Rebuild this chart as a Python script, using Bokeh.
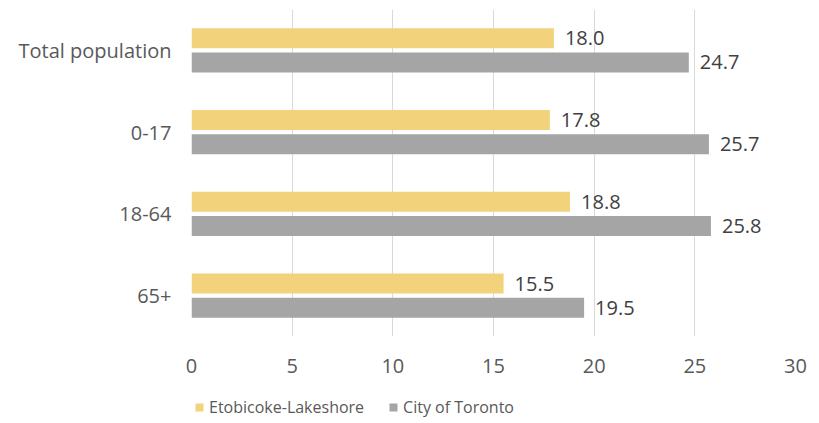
from bokeh.plotting import figure
from bokeh.layouts import column
from bokeh.models import ColumnDataSource, Legend, LegendItem, FixedTicker, Range1d
from bokeh.transform import dodge
from bokeh.core.properties import value
from bokeh.embed import file_html
from bokeh.resources import INLINE

categories = ["Total population", "0-17", "18-64", "65+"]
etobicoke = [18.0, 17.8, 18.8, 15.5]
toronto = [24.7, 25.7, 25.8, 19.5]
x_ticks = [0, 5, 10, 15, 20, 25, 30]
series_names = ["Etobicoke-Lakeshore", "City of Toronto"]

FONT = "Open Sans"
YELLOW = "#F3D27C"
GRAY = "#A5A5A5"

src = ColumnDataSource(dict(
    cat=categories,
    eto=etobicoke,
    tor=toronto,
    eto_lbl=[f"{v:.1f}" for v in etobicoke],
    tor_lbl=[f"{v:.1f}" for v in toronto],
))

p = figure(width=819, height=395, y_range=list(reversed(categories)),
           x_range=(0, 30), output_backend="svg", toolbar_location=None,
           min_border_left=191, min_border_right=24, min_border_top=9,
           min_border_bottom=59)

OFF = 0.147
r1 = p.hbar(y=dodge("cat", OFF, range=p.y_range), right="eto", left=0,
            height=0.245, source=src, color=YELLOW, line_color=None)
r2 = p.hbar(y=dodge("cat", -OFF, range=p.y_range), right="tor", left=0,
            height=0.245, source=src, color=GRAY, line_color=None)

p.text(x="eto", y=dodge("cat", OFF, range=p.y_range), text="eto_lbl",
       source=src, x_offset=11, text_baseline="middle", text_align="left",
       text_font_size="20px", text_color="#404040", text_font=value(FONT))
p.text(x="tor", y=dodge("cat", -OFF, range=p.y_range), text="tor_lbl",
       source=src, x_offset=11, text_baseline="middle", text_align="left",
       text_font_size="20px", text_color="#404040", text_font=value(FONT))

p.outline_line_color = None
p.ygrid.grid_line_color = None
p.xgrid.grid_line_color = "#D9D9D9"
p.xgrid.grid_line_width = 1
p.xaxis.ticker = FixedTicker(ticks=x_ticks)

for ax in (p.xaxis[0], p.yaxis[0]):
    ax.axis_line_color = None
    ax.major_tick_line_color = None
    ax.minor_tick_line_color = None
    ax.major_tick_out = 0
    ax.major_tick_in = 0
    ax.major_label_text_font = FONT
    ax.major_label_text_font_size = "20px"
    ax.major_label_text_color = "#595959"
p.xaxis.major_label_standoff = 22
p.yaxis.major_label_standoff = 20

# legend strip: zero-height proxy bars, only the legend is visible
lf = figure(width=819, height=28, x_range=Range1d(100, 101), y_range=list(categories),
            output_backend="svg", toolbar_location=None,
            x_axis_location=None, y_axis_location=None,
            min_border_left=0, min_border_right=0, min_border_top=0,
            min_border_bottom=0)
lf.outline_line_color = None
lf.grid.grid_line_color = None
l1 = lf.hbar(y="cat", right="eto", left=0, height=0, source=src,
             color=YELLOW, line_color=None)
l2 = lf.hbar(y="cat", right="tor", left=0, height=0, source=src,
             color=GRAY, line_color=None)

legend = Legend(items=[LegendItem(label=series_names[0], renderers=[l1]),
                       LegendItem(label=series_names[1], renderers=[l2])],
                orientation="horizontal", location=(3, 5),
                label_text_font=FONT, label_text_font_size="16px",
                label_text_color="#595959", glyph_width=10, glyph_height=10,
                label_standoff=5, spacing=24, padding=0, margin=0,
                border_line_color=None, background_fill_alpha=0)
lf.add_layout(legend, "center")

layout = column(p, lf, spacing=0)
open("out.html", "w").write(file_html(layout, INLINE))
